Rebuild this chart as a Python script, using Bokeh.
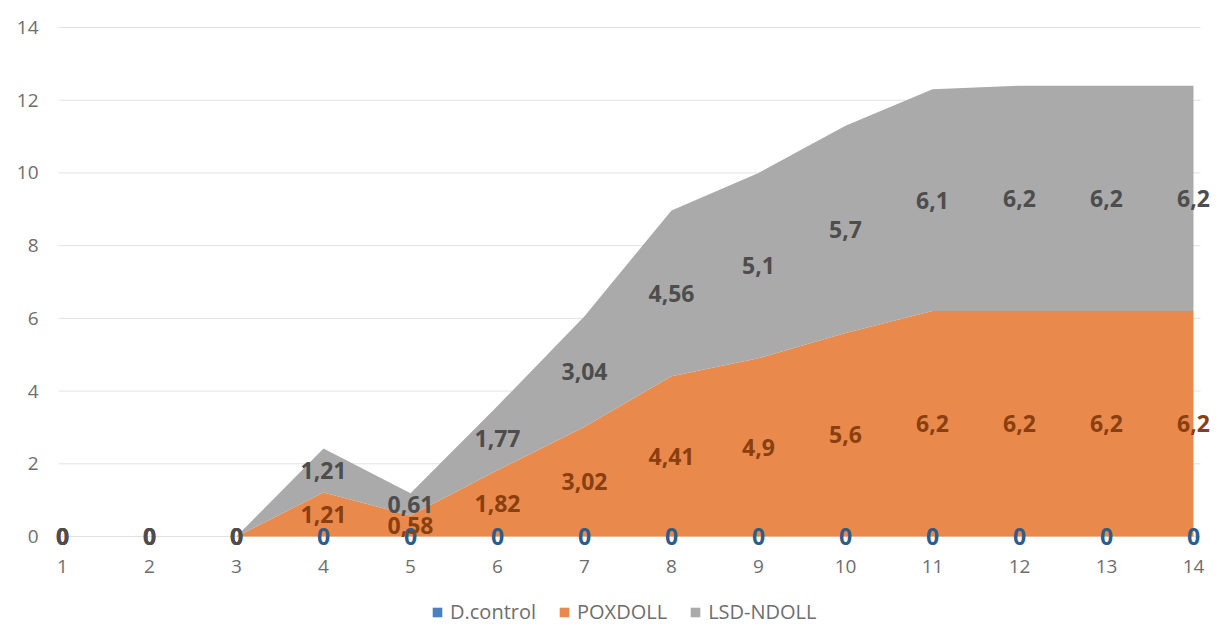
import numpy as np
from bokeh.plotting import figure
from bokeh.layouts import column
from bokeh.models import (ColumnDataSource, Legend, LegendItem, FixedTicker, Range1d)
from bokeh.core.properties import value
from bokeh.embed import file_html
from bokeh.resources import INLINE

# ---- data ----
categories = [1, 2, 3, 4, 5, 6, 7, 8, 9, 10, 11, 12, 13, 14]
d_control = [0, 0, 0, 0, 0, 0, 0, 0, 0, 0, 0, 0, 0, 0]
poxdoll = [0, 0, 0, 1.21, 0.58, 1.82, 3.02, 4.41, 4.9, 5.6, 6.2, 6.2, 6.2, 6.2]
lsd_ndoll = [0, 0, 0, 1.21, 0.61, 1.77, 3.04, 4.56, 5.1, 5.7, 6.1, 6.2, 6.2, 6.2]
series_names = ["D.control", "POXDOLL", "LSD-NDOLL"]
y_ticks = [0, 2, 4, 6, 8, 10, 12, 14]

area_colors = ["#4a7fc0", "#e98a4c", "#aaaaaa"]
label_colors = ["#2e5c8a", "#8a3f10", "#4d4d4d"]
FONT = "Open Sans"
TICK_COLOR = "#6e6e6e"

src = ColumnDataSource(dict(x=categories, dc=d_control, pox=poxdoll, lsd=lsd_ndoll))

p = figure(frame_width=1170, frame_height=533, output_backend="svg", toolbar_location=None,
           x_range=Range1d(0.8046, 14.253), y_range=Range1d(-0.33, 14.33),
           min_border_left=45, min_border_right=7, min_border_top=15,
           min_border_bottom=40)
p.outline_line_color = None
p.xgrid.visible = False
p.ygrid.visible = False
p.background_fill_color = "white"
p.border_fill_color = "white"

# gridlines
p.segment(x0=[0.954] * len(y_ticks), x1=[14.08] * len(y_ticks), y0=y_ticks, y1=y_ticks,
          line_color="#e2e2e2", line_width=1)

# stacked areas
areas = p.varea_stack(["dc", "pox", "lsd"], x="x", color=area_colors, source=src)

# data labels
dc = np.array(d_control, dtype=float)
px = np.array(poxdoll, dtype=float)
ls = np.array(lsd_ndoll, dtype=float)


def fmt(v):
    return ("%g" % v).replace(".", ",")


mids = [dc / 2, dc + px / 2, dc + px + ls / 2]
vals = [d_control, poxdoll, lsd_ndoll]
for mid, vv, col in zip(mids, vals, label_colors):
    lsrc = ColumnDataSource(dict(x=categories, y=list(mid), t=[fmt(v) for v in vv]))
    p.text(x="x", y="y", text="t", source=lsrc, text_align="center",
           text_baseline="middle", text_font=value(FONT), text_font_style="bold",
           text_font_size="23px", text_color=col)

# axes
for ax in (p.xaxis[0], p.yaxis[0]):
    ax.axis_line_color = None
    ax.major_tick_line_color = None
    ax.minor_tick_line_color = None
    ax.major_tick_out = 0
    ax.major_tick_in = 0
    ax.minor_tick_out = 0
    ax.major_label_text_font = FONT
    ax.major_label_text_font_size = "19px"
    ax.major_label_text_color = TICK_COLOR
p.xaxis.ticker = FixedTicker(ticks=categories)
p.yaxis.ticker = FixedTicker(ticks=y_ticks)
p.xaxis.major_label_standoff = 11
p.yaxis.major_label_standoff = 7

# legend strip (separate small figure below the chart)
lg = figure(width=1222, height=40, output_backend="svg", toolbar_location=None,
            x_range=Range1d(0, 1), y_range=Range1d(0, 1),
            min_border_left=0, min_border_right=0, min_border_top=0, min_border_bottom=0,
            x_axis_type=None, y_axis_type=None)
lg.outline_line_color = None
lg.xgrid.visible = False
lg.ygrid.visible = False
lg_renderers = []
for c in area_colors:
    lg_renderers.append(lg.varea(x=[2, 3], y1=[2, 2], y2=[3, 3], color=c))

legend = Legend(items=[LegendItem(label=n, renderers=[r]) for n, r in zip(series_names, lg_renderers)],
                orientation="horizontal", location=(386, 3))
legend.label_text_font = FONT
legend.label_text_font_size = "20px"
legend.label_text_color = TICK_COLOR
legend.glyph_width = 12
legend.glyph_height = 12
legend.label_standoff = 7
legend.spacing = 22
legend.border_line_color = None
legend.background_fill_alpha = 0
legend.margin = 0
legend.padding = 4
lg.add_layout(legend, "center")

layout = column(p, lg, spacing=0)
open("out.html", "w").write(file_html(layout, INLINE))
